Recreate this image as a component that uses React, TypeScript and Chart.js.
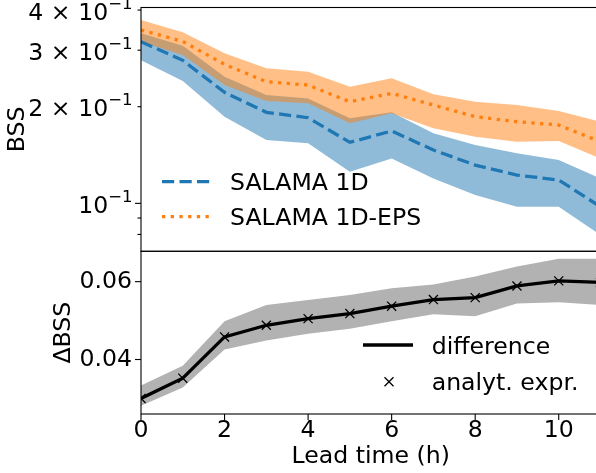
import React, { useEffect, useRef } from 'react';
import { Chart, registerables } from 'chart.js';

Chart.register(...registerables);

const FONT_FAMILY = "'DejaVu Sans', sans-serif";
const FS = 23.6;

// ---------- data ----------
const leadTimes = [0, 1, 2, 3, 4, 5, 6, 7, 8, 9, 10, 11];

const salama1d = [0.3187, 0.2789, 0.2217, 0.1921, 0.1848, 0.1549, 0.168, 0.1466, 0.1316, 0.1225, 0.1182, 0.0976];
const salama1dLow = [0.2789, 0.2404, 0.1862, 0.1575, 0.1538, 0.1254, 0.138, 0.1196, 0.1062, 0.0976, 0.0976, 0.0797];
const salama1dHigh = [0.3385, 0.3097, 0.248, 0.2175, 0.2123, 0.184, 0.1921, 0.1652, 0.1519, 0.1432, 0.1364, 0.1196];

const salamaEps = [0.3467, 0.3194, 0.271, 0.2393, 0.2336, 0.2073, 0.2201, 0.2024, 0.1862, 0.1796, 0.1754, 0.1556];
const salamaEpsLow = [0.3187, 0.2897, 0.2336, 0.2083, 0.2049, 0.1775, 0.1908, 0.1713, 0.1612, 0.1556, 0.1564, 0.138];
const salamaEpsHigh = [0.3724, 0.3409, 0.2934, 0.2634, 0.257, 0.2307, 0.2451, 0.2185, 0.2073, 0.2024, 0.1939, 0.1796];

const difference = [0.03, 0.0352, 0.0458, 0.0488, 0.0505, 0.0518, 0.0537, 0.0554, 0.0559, 0.0589, 0.0602, 0.0598];
const differenceLow = [0.0281, 0.0328, 0.0426, 0.0449, 0.0466, 0.0479, 0.0498, 0.0516, 0.0511, 0.0544, 0.0547, 0.054];
const differenceHigh = [0.0333, 0.0384, 0.0498, 0.054, 0.0553, 0.0566, 0.0583, 0.0593, 0.0613, 0.0639, 0.0659, 0.0659];
const analyticExpr = [0.03, 0.0352, 0.0458, 0.0488, 0.0505, 0.0518, 0.0537, 0.0554, 0.0559, 0.0589, 0.0602, 0.0598];

const topTickValues = [0.08, 0.09, 0.1, 0.2, 0.3, 0.4];
const topTickBase = ['', '', '10', '2 × 10', '3 × 10', '4 × 10'];
const topTickExp = ['', '', '−1', '−1', '−1', '−1'];
const topMajorTicks = [0.1];
const bottomYTickValues = [0.04, 0.06];
const bottomYTickLabels = ['0.04', '0.06'];
const xTickValues = [0, 2, 4, 6, 8, 10];
const xTickLabels = ['0', '2', '4', '6', '8', '10'];

const seriesLabels = ['SALAMA 1D', 'SALAMA 1D-EPS'];
const diffLabels = ['difference', 'analyt. expr.'];

// ---------- styles ----------
const BLUE = '#1f77b4';
const ORANGE = '#ff7f0e';
const BLUE_FILL = 'rgba(31,119,180,0.5)';
const ORANGE_FILL = 'rgba(255,127,14,0.5)';
const GRAY_FILL = '#b2b2b2';
const LW = 3.3;
const DASH = [12.2, 5.3];
const DOT = [3.3, 5.4];

const pts = (arr: number[]) => leadTimes.map((x, i) => ({ x, y: arr[i] }));

const font = (size = FS) => ({ family: FONT_FAMILY, size, lineHeight: 1 });

const noPad = (s: any) => {
  s.paddingTop = 0;
  s.paddingBottom = 0;
  s.paddingLeft = 0;
  s.paddingRight = 0;
};

function framePlugin(yTicks: number[], yMajor: number[], xTicks: number[] | null) {
  return {
    id: 'frameTicks',
    afterDraw(chart: any) {
      const { ctx, chartArea } = chart;
      const { left, right, top, bottom } = chartArea;
      ctx.save();
      ctx.strokeStyle = '#000';
      ctx.lineWidth = 1.1;
      ctx.strokeRect(left, top, right - left, bottom - top);
      const ys = chart.scales.y;
      yTicks.forEach((v) => {
        const p = ys.getPixelForValue(v);
        const len = yMajor.includes(v) ? 6 : 3.5;
        ctx.beginPath();
        ctx.moveTo(left - len, p);
        ctx.lineTo(left, p);
        ctx.stroke();
      });
      if (xTicks) {
        const xs = chart.scales.x;
        xTicks.forEach((v) => {
          const p = xs.getPixelForValue(v);
          ctx.beginPath();
          ctx.moveTo(p, bottom);
          ctx.lineTo(p, bottom + 6);
          ctx.stroke();
        });
      }
      ctx.restore();
    },
  };
}

// log-axis tick labels with a real superscript exponent (like matplotlib mathtext)
const logLabelPlugin = {
  id: 'logLabels',
  afterDraw(chart: any) {
    const { ctx, chartArea } = chart;
    const ys = chart.scales.y;
    const rightX = chartArea.left - 8.5;
    const supFS = FS * 0.7;
    ctx.save();
    ctx.fillStyle = '#000';
    ctx.textBaseline = 'alphabetic';
    ctx.textAlign = 'left';
    topTickValues.forEach((v, i) => {
      const base = topTickBase[i];
      const exp = topTickExp[i];
      if (!base) return;
      const p = ys.getPixelForValue(v);
      ctx.font = `${supFS}px ${FONT_FAMILY}`;
      const wExp = ctx.measureText(exp).width;
      ctx.font = `${FS}px ${FONT_FAMILY}`;
      const wBase = ctx.measureText(base).width;
      const x0 = rightX - wExp - wBase;
      const baseline = p + 9.5;
      ctx.fillText(base, x0, baseline);
      ctx.font = `${supFS}px ${FONT_FAMILY}`;
      ctx.fillText(exp, x0 + wBase, baseline - 11);
    });
    ctx.restore();
  },
};

const topLegendPlugin = {
  id: 'topLegend',
  afterDraw(chart: any) {
    const { ctx, chartArea } = chart;
    const { left, top } = chartArea;
    const rows = [
      { label: seriesLabels[0], color: BLUE, dash: DASH, y: top + 174.2 },
      { label: seriesLabels[1], color: ORANGE, dash: DOT, y: top + 209.2 },
    ];
    ctx.save();
    rows.forEach((r) => {
      ctx.strokeStyle = r.color;
      ctx.lineWidth = LW;
      ctx.lineCap = 'butt';
      ctx.setLineDash(r.dash);
      ctx.beginPath();
      ctx.moveTo(left + 21, r.y);
      ctx.lineTo(left + 69, r.y);
      ctx.stroke();
      ctx.setLineDash([]);
      ctx.fillStyle = '#000';
      ctx.font = `${FS}px ${FONT_FAMILY}`;
      ctx.textBaseline = 'alphabetic';
      ctx.textAlign = 'left';
      ctx.fillText(r.label, left + 89, r.y + 0.365 * FS);
    });
    ctx.restore();
  },
};

const bottomLegendPlugin = {
  id: 'bottomLegend',
  afterDraw(chart: any) {
    const { ctx, chartArea } = chart;
    const { left, top } = chartArea;
    const y1 = top + 93.7;
    const y2 = top + 130.4;
    ctx.save();
    ctx.strokeStyle = '#000';
    ctx.lineWidth = LW;
    ctx.beginPath();
    ctx.moveTo(left + 222, y1);
    ctx.lineTo(left + 272, y1);
    ctx.stroke();
    const cx = left + 248;
    ctx.lineWidth = 1.3;
    ctx.beginPath();
    ctx.moveTo(cx - 4.5, y2 - 4.5);
    ctx.lineTo(cx + 4.5, y2 + 4.5);
    ctx.moveTo(cx + 4.5, y2 - 4.5);
    ctx.lineTo(cx - 4.5, y2 + 4.5);
    ctx.stroke();
    ctx.fillStyle = '#000';
    ctx.font = `${FS}px ${FONT_FAMILY}`;
    ctx.textBaseline = 'alphabetic';
    ctx.textAlign = 'left';
    ctx.fillText(diffLabels[0], left + 290.7, y1 + 0.365 * FS);
    ctx.fillText(diffLabels[1], left + 290.7, y2 + 0.365 * FS);
    ctx.restore();
  },
};

export default function App() {
  const topRef = useRef<HTMLCanvasElement>(null);
  const botRef = useRef<HTMLCanvasElement>(null);

  useEffect(() => {
    const topChart = new Chart(topRef.current as HTMLCanvasElement, {
      type: 'line',
      data: {
        datasets: [
          { data: pts(salama1dLow), borderWidth: 0, pointRadius: 0, fill: false, order: 6, clip: 0 } as any,
          { data: pts(salama1dHigh), borderWidth: 0, pointRadius: 0, fill: '-1', backgroundColor: BLUE_FILL, order: 6, clip: 0 } as any,
          { data: pts(salamaEpsLow), borderWidth: 0, pointRadius: 0, fill: false, order: 5, clip: 0 } as any,
          { data: pts(salamaEpsHigh), borderWidth: 0, pointRadius: 0, fill: '-1', backgroundColor: ORANGE_FILL, order: 5, clip: 0 } as any,
          { label: seriesLabels[0], data: pts(salama1d), borderColor: BLUE, borderWidth: LW, borderDash: DASH, pointRadius: 0, fill: false, order: 2, clip: 0, borderCapStyle: 'butt' } as any,
          { label: seriesLabels[1], data: pts(salamaEps), borderColor: ORANGE, borderWidth: LW, borderDash: DOT, pointRadius: 0, fill: false, order: 1, clip: 0, borderCapStyle: 'butt' } as any,
        ],
      },
      options: {
        animation: false,
        responsive: false,
        devicePixelRatio: 1,
        events: [],
        layout: { padding: { left: 0, top: 7.5, right: 9.5, bottom: 8.7 } },
        plugins: { legend: { display: false }, tooltip: { enabled: false } },
        elements: { line: { tension: 0 } },
        scales: {
          x: { type: 'linear', min: 0, max: 11, display: false, afterFit: noPad },
          y: {
            type: 'logarithmic',
            min: 0.0709,
            max: 0.4074,
            afterFit: (s: any) => { s.width = 141; noPad(s); },
            afterBuildTicks: (s: any) => { s.ticks = topTickValues.map((v) => ({ value: v })); },
            ticks: {
              autoSkip: false,
              color: '#000',
              font: font(),
              padding: 9,
              callback: () => '',
            },
            grid: { display: false, drawOnChartArea: false, drawTicks: false },
            border: { display: false },
            title: { display: true, text: 'BSS', color: '#000', font: { family: FONT_FAMILY, size: FS, lineHeight: 1.2 }, padding: { top: 3.3, bottom: 0 } },
          },
        },
      } as any,
      plugins: [framePlugin(topTickValues, topMajorTicks, null), logLabelPlugin, topLegendPlugin],
    });

    const botChart = new Chart(botRef.current as HTMLCanvasElement, {
      type: 'line',
      data: {
        datasets: [
          { data: pts(differenceLow), borderWidth: 0, pointRadius: 0, fill: false, order: 5, clip: 0 } as any,
          { data: pts(differenceHigh), borderWidth: 0, pointRadius: 0, fill: '-1', backgroundColor: GRAY_FILL, order: 5, clip: 0 } as any,
          { label: diffLabels[0], data: pts(difference), borderColor: '#000', borderWidth: LW, pointRadius: 0, fill: false, order: 2, clip: 0 } as any,
          { label: diffLabels[1], data: pts(analyticExpr), showLine: false, pointStyle: 'crossRot', pointRadius: 6.4, pointBorderWidth: 1.3, pointBorderColor: '#000', pointBackgroundColor: '#000', order: 1, clip: 0 } as any,
        ],
      },
      options: {
        animation: false,
        responsive: false,
        devicePixelRatio: 1,
        events: [],
        layout: { padding: { left: 0, top: 11.3, right: 9.5, bottom: 0 } },
        plugins: { legend: { display: false }, tooltip: { enabled: false } },
        elements: { line: { tension: 0 } },
        scales: {
          x: {
            type: 'linear',
            min: 0,
            max: 11,
            afterFit: (s: any) => { s.height = 59; noPad(s); },
            afterBuildTicks: (s: any) => { s.ticks = xTickValues.map((v) => ({ value: v })); },
            ticks: {
              autoSkip: false,
              maxRotation: 0,
              color: '#000',
              font: font(),
              padding: 5.2,
              callback: (_v: any, i: number) => xTickLabels[i],
            },
            grid: { display: false, drawOnChartArea: false, drawTicks: false },
            border: { display: false },
            title: { display: true, text: 'Lead time (h)', color: '#000', font: { family: FONT_FAMILY, size: FS, lineHeight: 1.2 }, padding: { top: 0, bottom: 1.8 } },
          },
          y: {
            type: 'linear',
            min: 0.026,
            max: 0.0678,
            afterFit: (s: any) => { s.width = 141; noPad(s); },
            afterBuildTicks: (s: any) => { s.ticks = bottomYTickValues.map((v) => ({ value: v })); },
            ticks: {
              autoSkip: false,
              color: '#000',
              font: font(),
              padding: 9,
              callback: (_v: any, i: number) => bottomYTickLabels[i],
            },
            grid: { display: false, drawOnChartArea: false, drawTicks: false },
            border: { display: false },
            title: { display: true, text: 'ΔBSS', color: '#000', font: { family: FONT_FAMILY, size: FS, lineHeight: 1.2 }, padding: { top: 49.8, bottom: 0 } },
          },
        },
      } as any,
      plugins: [framePlugin(bottomYTickValues, bottomYTickValues, xTickValues), bottomLegendPlugin],
    });

    return () => {
      topChart.destroy();
      botChart.destroy();
    };
  }, []);

  return (
    <div style={{ position: 'fixed', left: 0, top: 0, width: 596, height: 473, overflow: 'hidden', background: '#fff' }}>
      <canvas ref={topRef} width={610} height={260} style={{ position: 'absolute', left: 0, top: 0, width: 610, height: 260 }} />
      <canvas ref={botRef} width={610} height={233} style={{ position: 'absolute', left: 0, top: 240, width: 610, height: 233 }} />
    </div>
  );
}
